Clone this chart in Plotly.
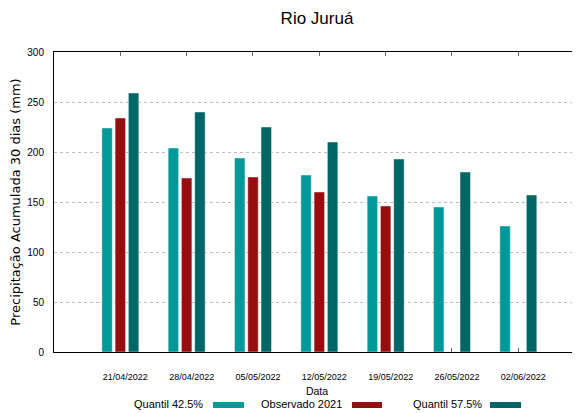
import plotly.graph_objects as go

datas = ["21/04/2022", "28/04/2022", "05/05/2022", "12/05/2022",
         "19/05/2022", "26/05/2022", "02/06/2022"]
quantil_425 = [224, 204, 194, 177, 156, 145, 126]
observado_2021 = [234, 174, 175, 160, 146, None, None]
quantil_575 = [259, 240, 225, 210, 193, 180, 157]

series_names = ["Quantil 42.5%", "Observado 2021", "Quantil 57.5%"]
series_colors = ["#009999", "#960E10", "#006666"]

# the page body has an 8px margin: lay the figure out in window pixels minus 8
OFF = 8
WIN_W, WIN_H = 580, 413
W, H = WIN_W - OFF, WIN_H - OFF
PL, PT, PB = 54, 52, 352          # plot edges in window pixels
ML, MR, MT, MB = PL - OFF, 0, PT - OFF, WIN_H - PB
FONT = "Liberation Sans, Arial, sans-serif"

fig = go.Figure()
for name, vals, col in zip(series_names, [quantil_425, observado_2021, quantil_575], series_colors):
    fig.add_trace(go.Bar(
        x=datas, y=vals, name=name,
        marker=dict(color=col, line=dict(color="rgba(255,255,255,0.45)", width=1)),
    ))

pw = W - ML - MR
ph = H - MT - MB

def px_x(p):
    return (p - PL) / pw

def px_y(p):
    return (PB - p) / ph

# custom legend: text then swatch (window pixel positions)
legend_items = [
    (series_names[0], series_colors[0], 205, 213, 244),
    (series_names[1], series_colors[1], 344, 352, 382),
    (series_names[2], series_colors[2], 484, 490, 521),
]
shapes = []
annotations = []
for txt, col, tx, s0, s1 in legend_items:
    annotations.append(dict(
        text=txt, x=px_x(tx), y=px_y(404), xref="paper", yref="paper",
        xanchor="right", yanchor="middle", showarrow=False,
        font=dict(family=FONT, size=11, color="#000000")))
    shapes.append(dict(
        type="rect", xref="paper", yref="paper",
        x0=px_x(s0), x1=px_x(s1), y0=px_y(408), y1=px_y(402),
        fillcolor=col, line=dict(width=0)))

fig.update_layout(
    width=W, height=H,
    margin=dict(l=ML, r=MR, t=MT, b=MB, autoexpand=False),
    paper_bgcolor="white", plot_bgcolor="white",
    barmode="group", bargap=0.4, bargroupgap=0.21,
    showlegend=False,
    title=dict(text="Rio Juruá", x=(ML + pw / 2) / W, xanchor="center",
               y=1 - (18 - OFF) / H, yanchor="middle", xref="container", yref="container",
               font=dict(family=FONT, size=17, color="#000000")),
    xaxis=dict(
        type="category", range=[-1, 6.93],
        showline=True, linecolor="#000000", linewidth=1, mirror="allticks",
        ticks="inside", ticklen=4, tickcolor="#666666",
        tickfont=dict(family=FONT, size=9, color="#000000"),
        ticklabelstandoff=16, ticklabelshift=5,
        showgrid=False, layer="below traces",
        title=dict(text="Data", standoff=6,
                   font=dict(family=FONT, size=10.5, color="#000000")),
    ),
    yaxis=dict(
        range=[0, 300], dtick=50,
        showline=True, linecolor="#000000", linewidth=1,
        ticks="", tickfont=dict(family=FONT, size=10, color="#000000"),
        ticklabelstandoff=7,
        showgrid=True, gridcolor="#bdbdbd", griddash="dot", gridwidth=1,
        zeroline=False,
        title=dict(text="Precipitação Acumulada 30 dias (mm)", standoff=5,
                   font=dict(family="DejaVu Sans", size=13, color="#000000")),
    ),
    shapes=shapes, annotations=annotations,
)

fig.write_html("out.html")
